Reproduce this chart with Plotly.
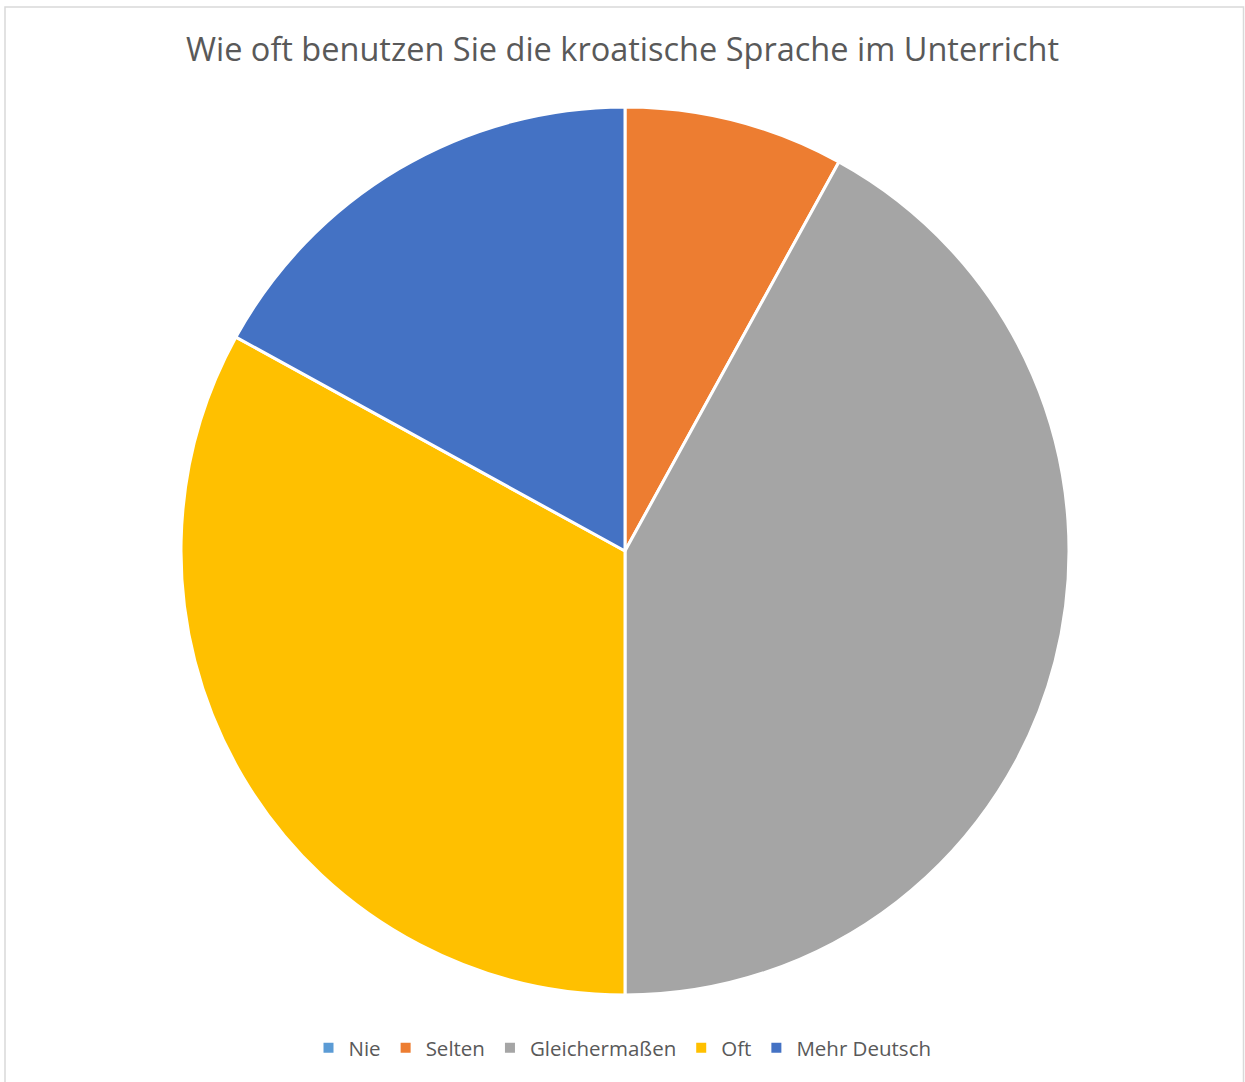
import plotly.graph_objects as go

categories = ["Nie", "Selten", "Gleichermaßen", "Oft", "Mehr Deutsch"]
values = [0, 8, 42, 33, 17]
colors = ["#5B9BD5", "#ED7D31", "#A5A5A5", "#FFC000", "#4472C4"]
title_text = "Wie oft benutzen Sie die kroatische Sprache im Unterricht"

W, H = 1245, 1082
cx, cy, r = 625, 551, 444

fig = go.Figure(go.Pie(
    labels=categories,
    values=values,
    marker=dict(colors=colors, line=dict(color="white", width=3)),
    sort=False,
    direction="clockwise",
    rotation=0,
    textinfo="none",
    hoverinfo="label+value+percent",
    domain=dict(x=[(cx - r) / W, (cx + r) / W], y=[1 - (cy + r) / H, 1 - (cy - r) / H]),
))

fig.update_layout(
    width=W, height=H,
    margin=dict(l=0, r=0, t=0, b=0),
    paper_bgcolor="white",
    font=dict(family="Open Sans", color="#595959"),
    title=dict(text=title_text, x=0.5, xanchor="center", y=1 - 50 / H, yanchor="middle",
               font=dict(size=32.5, color="#595959", family="Open Sans")),
    showlegend=True,
    legend=dict(orientation="h", x=0.5, xanchor="center", y=1 - 1048 / H, yanchor="middle",
                font=dict(size=20.5, color="#595959"), itemsizing="constant", traceorder="normal"),
    shapes=[dict(type="rect", xref="paper", yref="paper",
                 x0=5 / W, x1=1243.5 / W, y0=-0.01, y1=1 - 7 / H,
                 line=dict(color="#D9D9D9", width=1.5), fillcolor="rgba(0,0,0,0)")],
)

fig.write_html("out.html", config={"displayModeBar": False},
               post_script="document.body.style.margin='0';")
